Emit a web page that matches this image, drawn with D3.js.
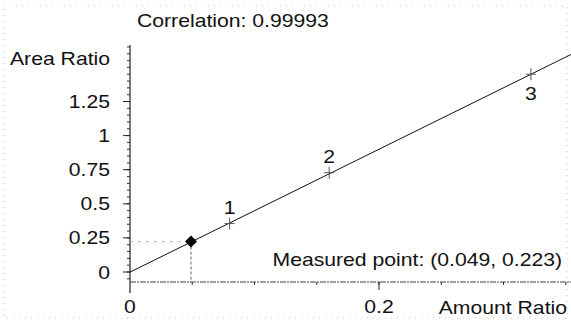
<!DOCTYPE html>
<html><head><meta charset="utf-8">
<script src="https://cdn.jsdelivr.net/npm/d3@7"></script>
<style>
html,body{margin:0;padding:0;background:#fff;}
svg{display:block;}
text{font-family:"Liberation Sans",Arial,sans-serif;fill:#111;}
</style></head>
<body>
<svg id="chart" width="571" height="323"></svg>
<script>
// ---- data ----
const calibLabels = ["1", "2", "3"];
const calibAmount = [0.080, 0.160, 0.322];
const calibArea = [0.355, 0.728, 1.450];
const measuredPoint = [0.049, 0.223];
const fitSlope = 4.505;
const fitIntercept = -0.001;
const correlationText = "Correlation: 0.99993";
const yTickValues = [0, 0.25, 0.5, 0.75, 1, 1.25];
const yTickLabels = ["0", "0.25", "0.5", "0.75", "1", "1.25"];
const xTickValues = [0, 0.2];
const xTickLabels = ["0", "0.2"];
const xTitle = "Amount Ratio";
const yTitle = "Area Ratio";

// ---- layout ----
const svg = d3.select("#chart");
const FS = 18.5, SX = 1.145;
const x = d3.scaleLinear().domain([0, 0.355]).range([130, 572]);
const y = d3.scaleLinear().domain([0, 1.25]).range([272, 101.5]);
const axisY = 282;         // x-axis line position
const yTop = 45;

function label(txt, px, py, anchor) {
  const t = svg.append("text")
    .attr("transform", `translate(${px},${py}) scale(${SX},1)`)
    .attr("font-size", FS)
    .attr("text-anchor", anchor || "start")
    .text(txt);
  return t;
}

// faint scan frame
svg.append("rect").attr("x", 4).attr("y", 6).attr("width", 563).attr("height", 312)
  .attr("fill", "none").attr("stroke", "#c8c8c8").attr("stroke-width", 1)
  .attr("stroke-dasharray", "1,5");

// y axis line
svg.append("line").attr("x1", x(0)).attr("x2", x(0)).attr("y1", yTop).attr("y2", 293)
  .attr("stroke", "#222").attr("stroke-width", 1.2);
// x axis line
svg.append("line").attr("x1", x(0)).attr("x2", 571).attr("y1", axisY).attr("y2", axisY)
  .attr("stroke", "#444").attr("stroke-width", 1).attr("stroke-dasharray", "6,1,2,1");

// y minor ticks
const yMinor = d3.range(-1, 34).map(i => +(i * 0.05).toFixed(2));
svg.append("g").selectAll("line").data(yMinor).join("line")
  .attr("x1", x(0) - 3).attr("x2", x(0))
  .attr("y1", d => y(d)).attr("y2", d => y(d))
  .attr("stroke", "#333").attr("stroke-width", 1);
// y major ticks
svg.append("g").selectAll("line").data(yTickValues).join("line")
  .attr("x1", x(0) - 7).attr("x2", x(0))
  .attr("y1", d => y(d)).attr("y2", d => y(d))
  .attr("stroke", "#222").attr("stroke-width", 1);
yTickValues.forEach((v, i) => label(yTickLabels[i], 110, y(v) + 6.5, "end"));

// x minor ticks
const xMinor = d3.range(1, 8).map(i => +(i * 0.05).toFixed(2));
svg.append("g").selectAll("line").data(xMinor).join("line")
  .attr("x1", d => x(d)).attr("x2", d => x(d))
  .attr("y1", axisY).attr("y2", axisY + 3)
  .attr("stroke", "#333").attr("stroke-width", 1);
svg.append("g").selectAll("line").data(xTickValues.filter(d => d > 0)).join("line")
  .attr("x1", d => x(d)).attr("x2", d => x(d))
  .attr("y1", axisY).attr("y2", axisY + 8)
  .attr("stroke", "#222").attr("stroke-width", 1);
xTickValues.forEach((v, i) => label(xTickLabels[i], x(v), 313, "middle"));

// titles
label(yTitle, 10, 65, "start");
label(xTitle, 567, 314, "end");
label(correlationText, 137, 27, "start");
label(`Measured point: (${measuredPoint[0]}, ${measuredPoint[1]})`, 562, 266, "end");

// regression line
const xEnd = x.domain()[1];
svg.append("line")
  .attr("x1", x(0)).attr("y1", y(fitIntercept))
  .attr("x2", x(xEnd)).attr("y2", y(fitIntercept + fitSlope * xEnd))
  .attr("stroke", "#111").attr("stroke-width", 1);

// calibration crosses
const cal = calibAmount.map((a, i) => ({a, r: calibArea[i], l: calibLabels[i]}));
const cg = svg.append("g");
cal.forEach(d => {
  cg.append("line").attr("x1", x(d.a) - 5).attr("x2", x(d.a) + 5)
    .attr("y1", y(d.r)).attr("y2", y(d.r)).attr("stroke", "#555").attr("stroke-width", 1);
  cg.append("line").attr("x1", x(d.a)).attr("x2", x(d.a))
    .attr("y1", y(d.r) - 6).attr("y2", y(d.r) + 6).attr("stroke", "#555").attr("stroke-width", 1);
});
// labels: 1 & 2 above, 3 below
cal.forEach((d, i) => {
  const py = i < 2 ? y(d.r) - 10 : y(d.r) + 26;
  label(d.l, x(d.a), py, "middle");
});

// measured point: dashed drop line, faint horizontal, diamond
svg.append("line").attr("x1", x(measuredPoint[0])).attr("x2", x(measuredPoint[0]))
  .attr("y1", y(measuredPoint[1])).attr("y2", axisY)
  .attr("stroke", "#666").attr("stroke-width", 1).attr("stroke-dasharray", "3,2");
svg.append("line").attr("x1", x(0)).attr("x2", x(measuredPoint[0]))
  .attr("y1", y(measuredPoint[1])).attr("y2", y(measuredPoint[1]))
  .attr("stroke", "#bbb").attr("stroke-width", 1).attr("stroke-dasharray", "3,5");
svg.append("path")
  .attr("d", d3.symbol(d3.symbolSquare, 72)())
  .attr("transform", `translate(${x(measuredPoint[0])},${y(measuredPoint[1])}) rotate(45)`)
  .attr("fill", "#000");
</script>
</body></html>
